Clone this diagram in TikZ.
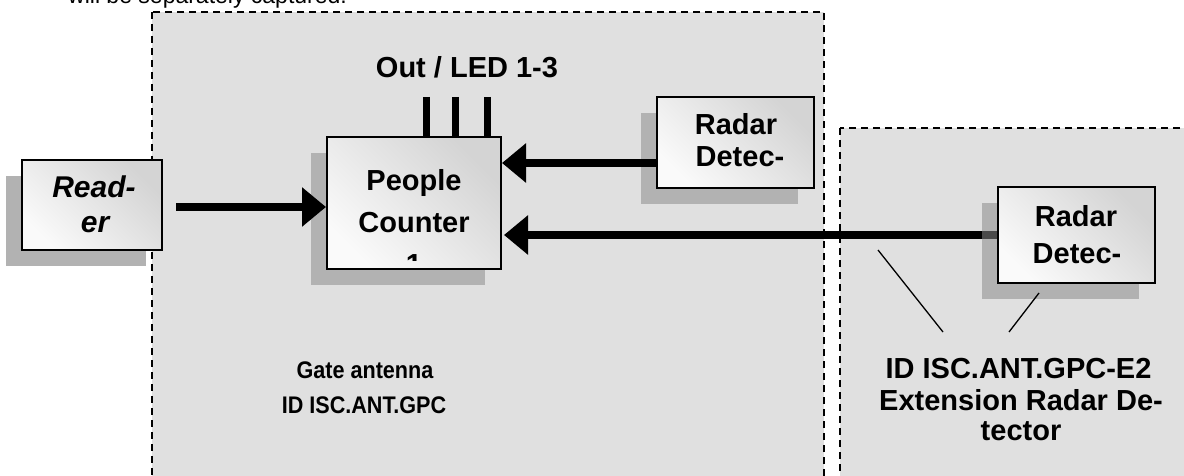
\documentclass[tikz,border=0pt]{standalone}
\usepackage{fontspec}
\setmainfont{Liberation Sans}
\newfontfamily\narrowfont{Liberation Sans}[FakeStretch=0.9]
\usetikzlibrary{arrows.meta,shadows}
\pgfdeclarelayer{back}
\pgfdeclarelayer{under}
\pgfsetlayers{back,under,main}
\tikzset{
  regionst/.style={fill=black!12, draw=black, line width=2pt, dash pattern=on 7pt off 5pt},
  boxbase/.style={rectangle, draw=black, line width=2pt, inner sep=0pt,
    top color=black!17, bottom color=black!2, shading angle=-45},
  shadowA/.style={drop shadow={shadow xshift=-16pt, shadow yshift=-16pt, fill=black!30, opacity=1, draw=none}},
  shadowB/.style={drop shadow={shadow xshift=-16pt, shadow yshift=-16pt, fill=black!46, opacity=0.54, draw=none}},
  boxtext/.style={font=\fontsize{29}{29}\selectfont\bfseries, inner sep=0pt, anchor=base},
  readertext/.style={font=\fontsize{30}{30}\selectfont\bfseries\itshape, inner sep=0pt, anchor=base},
  gatetext/.style={font=\fontsize{24}{24}\selectfont\narrowfont\bfseries, inner sep=0pt, anchor=base},
  flow/.style={line width=8pt, -{Triangle[length=24pt,width=38pt]}},
  ledline/.style={line width=7pt},
  pointer/.style={line width=1.3pt},
}
\begin{document}
\begin{tikzpicture}[x=1pt,y=-1pt]
\useasboundingbox (0,0) rectangle (1184,476);
\begin{pgfonlayer}{back}
  \begin{scope}
    \clip (0,0) rectangle (1184,476);
    \draw[regionst] (152,12) rectangle (824,490);
    \draw[regionst] (840,128) rectangle (1200,490);
  \end{scope}
\end{pgfonlayer}
\begin{scope}
\clip (0,0) rectangle (1184,476);
\node[font=\fontsize{23}{23}\selectfont, anchor=base west, inner sep=0pt] (toptext) at (68,4) {will be separately captured.};
\end{scope}

% boxes
\node[boxbase, shadowA, minimum width=140pt, minimum height=90pt] (reader) at (92,205) {};
\node[readertext] (readerA) at (94,197) {Read-};
\node[readertext] (readerB) at (95,232) {er};

\node[boxbase, shadowA, minimum width=174pt, minimum height=132pt] (pc) at (414,203) {};
\begin{scope}
  \clip ([yshift=10pt]pc.south west) rectangle (pc.north east);
  \node[boxtext] (pcA) at (414,190) {People};
  \node[boxtext] (pcB) at (414,232) {Counter};
  \node[boxtext] (pcC) at (414,274) {1};
\end{scope}

\node[boxbase, shadowA, minimum width=157pt, minimum height=91pt] (radarA) at (735.5,142.5) {};
\node[boxtext] (radarAa) at (736,135) {Radar};
\node[boxtext] (radarAb) at (740,167) {Detec-};

\node[boxbase, shadowB, minimum width=157pt, minimum height=96pt] (radarB) at (1076.5,235) {};
\node[boxtext] (radarBa) at (1076,226) {Radar};
\node[boxtext] (radarBb) at (1077,263) {Detec-};

% LED outputs
\coordinate (led1) at (426,97);
\coordinate (led2) at (455,97);
\coordinate (led3) at (487,97);
\draw[ledline] (led1) -- (led1 |- pc.north);
\draw[ledline] (led2) -- (led2 |- pc.north);
\draw[ledline] (led3) -- (led3 |- pc.north);
\node[boxtext] (outled) at (467,78) {Out / LED 1-3};

% connectors
\coordinate (a1) at ([yshift=-2pt]reader.east);
\draw[flow, shorten <=13pt] (a1) -- (a1 -| pc.west);
\coordinate (a2) at ([yshift=-20.5pt]radarA.west);
\draw[flow] (a2) -- (a2 -| pc.east);
\begin{pgfonlayer}{under}
  \draw[flow, shorten >=2pt] (radarB.west) -- (radarB.west -| pc.east);
\end{pgfonlayer}

% pointer lines
\coordinate (p1a) at (878,250);
\coordinate (p1b) at (943,332);
\coordinate (p2a) at (1039,293);
\coordinate (p2b) at (1009,332);
\draw[pointer] (p1a) -- (p1b);
\draw[pointer] (p2a) -- (p2b);

% labels
\node[gatetext] (gateA) at (365,378) {Gate antenna};
\node[gatetext] (gateB) at (364,413) {ID ISC.ANT.GPC};
\node[boxtext] (extA) at (1018.5,378) {ID ISC.ANT.GPC-E2};
\node[boxtext] (extB) at (1021,410) {Extension Radar De-};
\node[boxtext] (extC) at (1021,440) {tector};
\end{tikzpicture}
\end{document}
